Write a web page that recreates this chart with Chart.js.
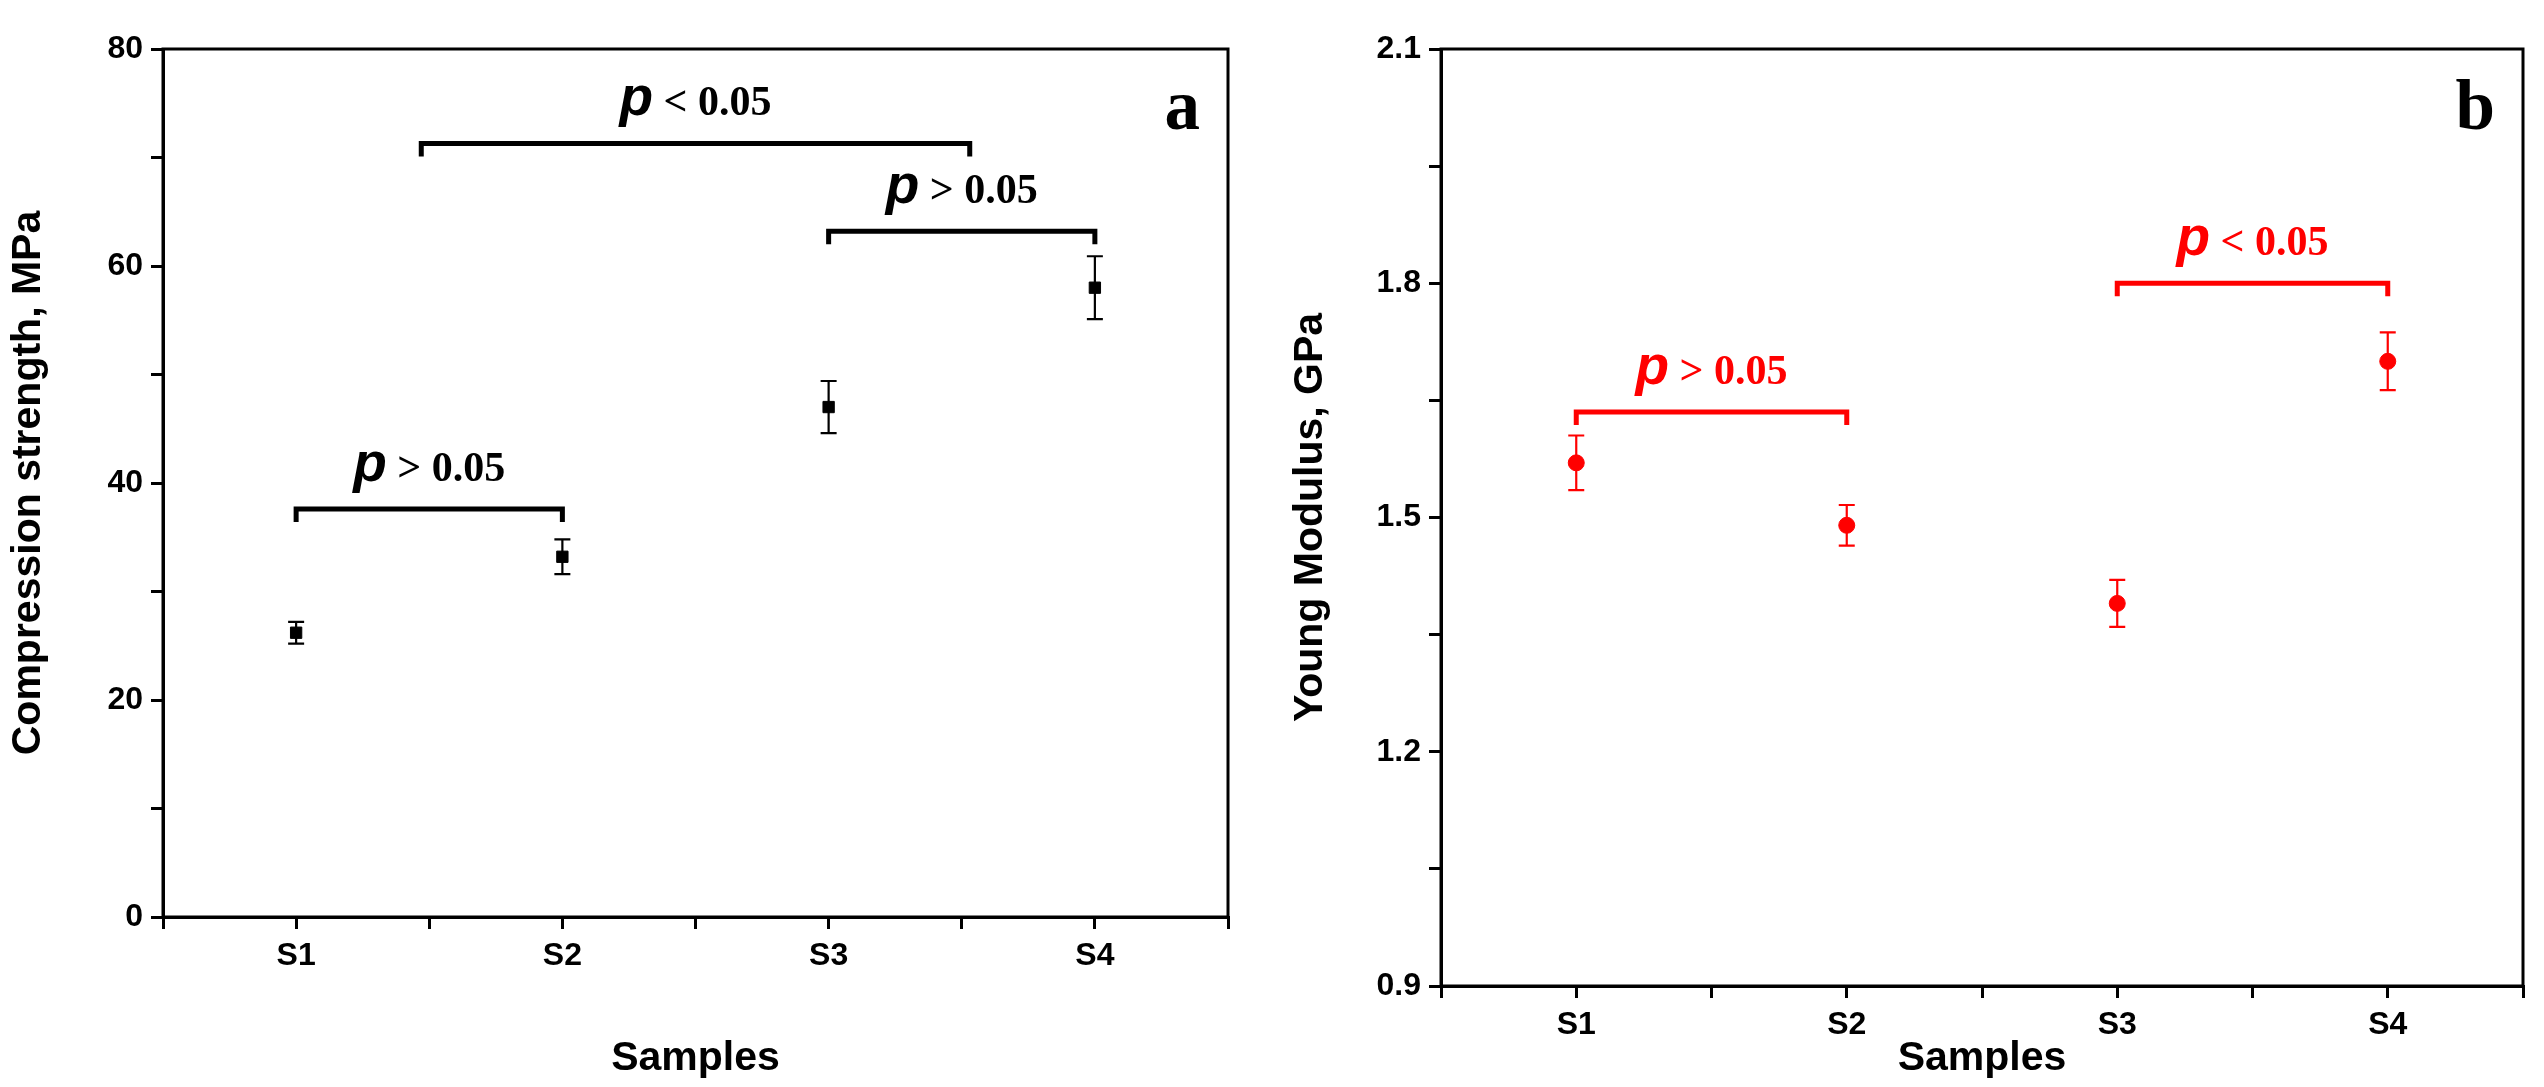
<!DOCTYPE html>
<html><head><meta charset="utf-8">
<script src="https://cdn.jsdelivr.net/npm/chart.js@4"></script>
<style>
body{margin:0;background:#fff;width:2544px;height:1087px;position:relative;overflow:hidden}
.box{position:absolute;top:0;height:1087px}
</style></head><body>
<div class="box" style="left:0;width:1250px"><canvas id="chartA"></canvas></div>
<div class="box" style="left:1282px;width:1250px"><canvas id="chartB"></canvas></div>
<script>
const K = 2544 / 1568;
const samples = ["S1", "S2", "S3", "S4"];
const strength = [26.2, 33.2, 47.0, 58.0];
const strengthErr = [1.0, 1.6, 2.4, 2.9];
const modulus = [1.57, 1.49, 1.39, 1.70];
const modulusErr = [0.035, 0.026, 0.03, 0.037];
// brackets: [from x, to x, y, label]
const bracketsA = [[1, 2, 37.6, "> 0.05"], [1.47, 3.53, 71.3, "< 0.05"], [3, 4, 63.2, "> 0.05"]];
const bracketsB = [[1, 2, 1.635, "> 0.05"], [3, 4, 1.80, "< 0.05"]];

const annot = {
  id: "annot",
  afterDatasetsDraw(chart, args, o) {
    const ctx = chart.ctx, x = chart.scales.x, y = chart.scales.y, a = chart.chartArea;
    ctx.save();
    ctx.strokeStyle = o.color; ctx.fillStyle = o.color;
    ctx.lineWidth = 2.2;
    o.values.forEach((v, i) => {
      const px = x.getPixelForValue(i + 1), t = y.getPixelForValue(v + o.err[i]), b = y.getPixelForValue(v - o.err[i]);
      ctx.beginPath();
      ctx.moveTo(px, t); ctx.lineTo(px, b);
      ctx.moveTo(px - 8, t); ctx.lineTo(px + 8, t);
      ctx.moveTo(px - 8, b); ctx.lineTo(px + 8, b);
      ctx.stroke();
    });
    ctx.lineWidth = 5;
    o.brackets.forEach(([x0, x1, yv, lab]) => {
      const p0 = x.getPixelForValue(x0), p1 = x.getPixelForValue(x1), py = y.getPixelForValue(yv);
      ctx.beginPath();
      ctx.moveTo(p0, py + 13); ctx.lineTo(p0, py); ctx.lineTo(p1, py); ctx.lineTo(p1, py + 13);
      ctx.stroke();
      const cx = (p0 + p1) / 2;
      const pf = "italic bold " + Math.round(34 * K) + "px 'Liberation Sans'";
      const lf = "bold " + Math.round(26 * K) + "px 'Liberation Serif'";
      ctx.font = pf; const pw = ctx.measureText("p").width;
      ctx.font = lf; const lw = ctx.measureText(" " + lab).width;
      const sx = cx - (pw + lw) / 2;
      ctx.textAlign = "left"; ctx.textBaseline = "alphabetic";
      ctx.font = pf; ctx.fillText("p", sx, py - 28);
      ctx.font = lf; ctx.fillText(" " + lab, sx + pw, py - 28);
    });
    ctx.strokeStyle = "#000"; ctx.lineWidth = 3;
    ctx.strokeRect(a.left, a.top, a.right - a.left, a.bottom - a.top);
    ctx.fillStyle = "#000";
    ctx.font = "bold " + Math.round(44 * K) + "px 'Liberation Serif'"; ctx.textAlign = "right";
    ctx.fillText(o.letter, a.right - 28, a.top + 80);
    ctx.restore();
  }
};

function make(id, values, err, color, pointStyle, yMin, yMax, yStep, yTitle, brackets, letter, yW, xH, padR) {
  const tickFont = { family: "Liberation Sans", weight: "bold", size: Math.round(20 * K) };
  const titleFont = { family: "Liberation Sans", weight: "bold", size: Math.round(25 * K) };
  new Chart(document.getElementById(id), {
    type: "scatter",
    data: { datasets: [{ data: values.map((v, i) => ({ x: i + 1, y: v })), backgroundColor: color, borderColor: color,
      pointStyle: pointStyle, pointRadius: 8 }] },
    options: {
      responsive: true, maintainAspectRatio: false, animation: false,
      layout: { padding: { top: 49, right: padR, left: 0, bottom: 0 } },
      plugins: { legend: { display: false }, tooltip: { enabled: false },
        annot: { values, err, color, brackets, letter } },
      scales: {
        x: { min: 0.5, max: 4.5, afterFit: s => { s.height = xH; },
          ticks: { stepSize: 0.5, autoSkip: false, color: "#000", font: tickFont, padding: 8,
            callback: v => Number.isInteger(v) ? samples[v - 1] : "" },
          grid: { drawOnChartArea: false, tickLength: 12, color: "#000", lineWidth: 3 },
          border: { color: "#000", width: 3 },
          title: { display: true, text: "Samples", color: "#000", font: titleFont, padding: { top: 40 } } },
        y: { min: yMin, max: yMax, afterFit: s => { s.width = yW; },
          ticks: { stepSize: yStep / 2, autoSkip: false, color: "#000", font: tickFont, padding: 8,
            callback: v => { const r = Math.round((v - yMin) / yStep * 1000) / 1000; return Number.isInteger(r) ? (yStep < 1 ? v.toFixed(1) : v) : ""; } },
          grid: { drawOnChartArea: false, tickLength: 12, color: "#000", lineWidth: 3 },
          border: { color: "#000", width: 3 },
          title: { display: true, text: yTitle, color: "#000", font: titleFont, padding: { bottom: 8 } } }
      }
    },
    plugins: [annot]
  });
}

make("chartA", strength, strengthErr, "#000", "rect", 0, 80, 20, "Compression strength, MPa", bracketsA, "a", 163, 1087 - 917, 22);
make("chartB", modulus, modulusErr, "#ff0000", "circle", 0.9, 2.1, 0.3, "Young Modulus, GPa", bracketsB, "b", 159, 1087 - 986, 0);
</script>
</body></html>
